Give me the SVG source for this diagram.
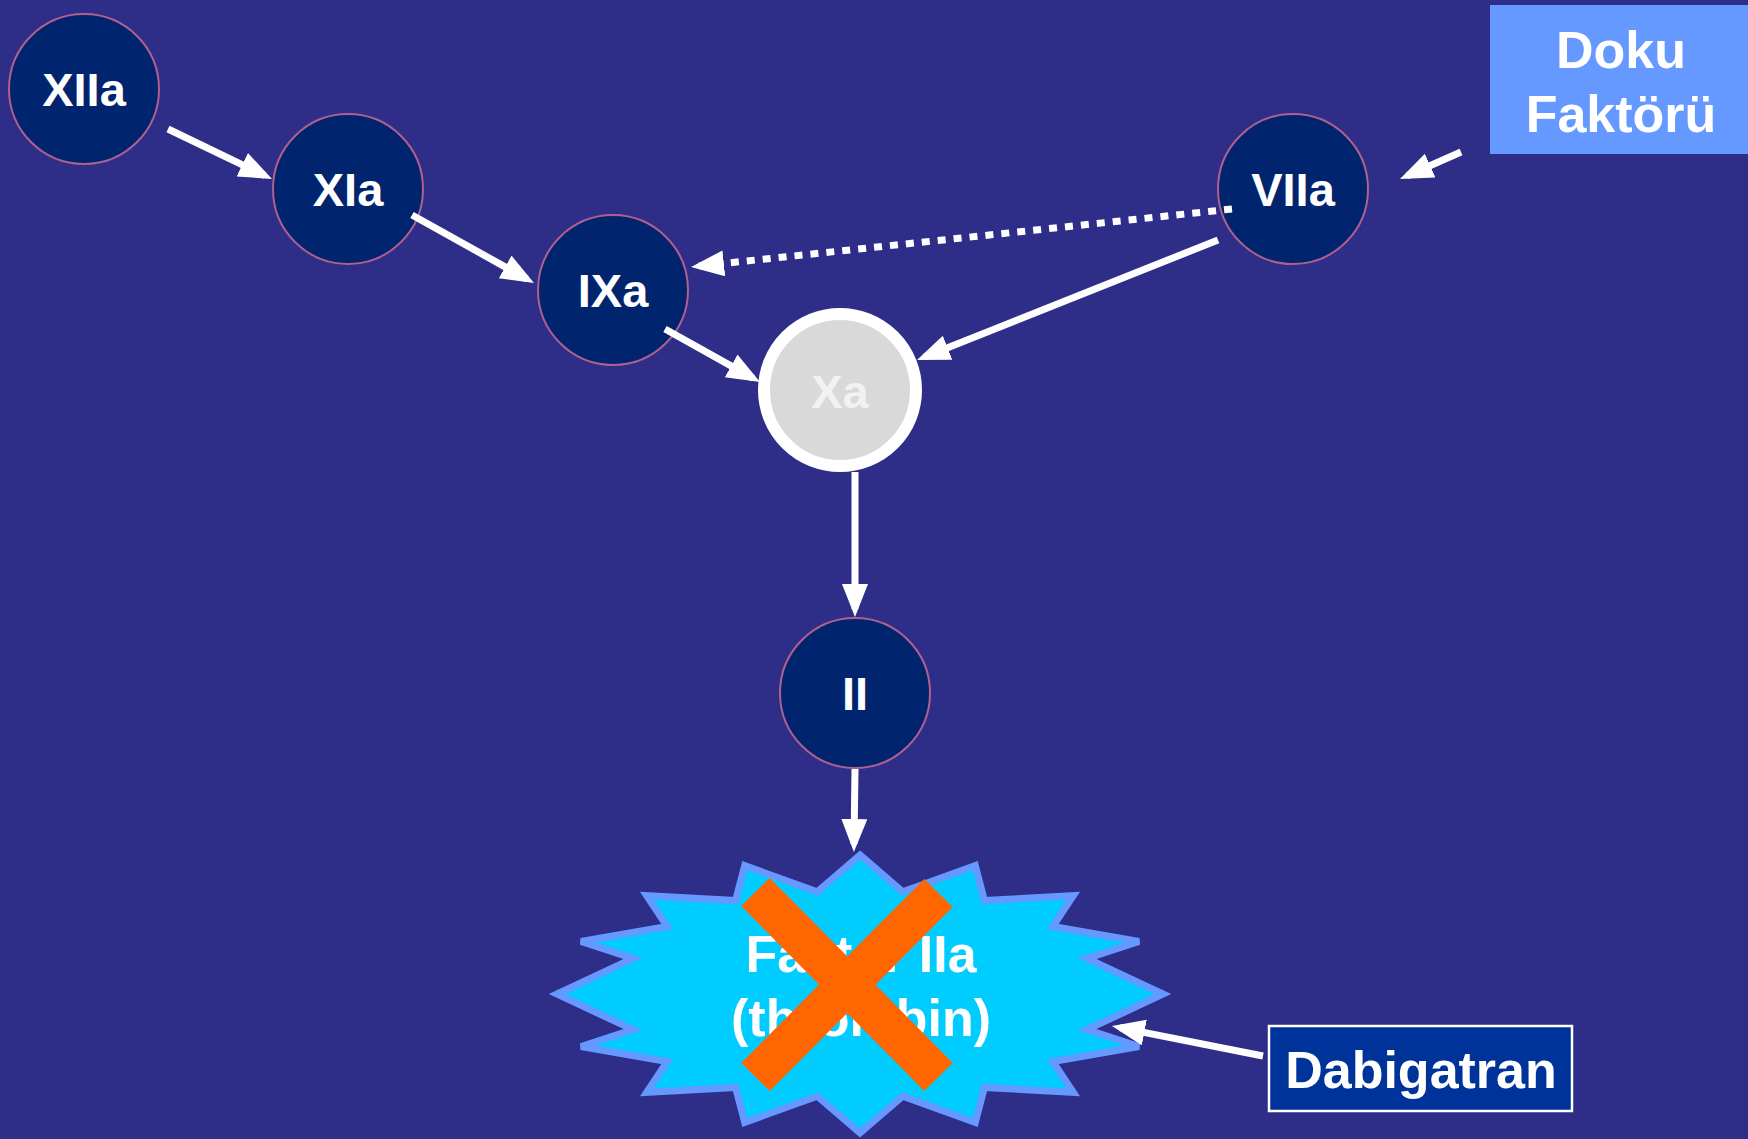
<svg xmlns="http://www.w3.org/2000/svg" width="1748" height="1139" viewBox="0 0 1748 1139">
  <style>
    .node circle { fill: #00246e; stroke: #b0608f; stroke-width: 2; }
    .lbl { font-family: "Liberation Sans", Arial, sans-serif; font-weight: bold; fill: #ffffff; text-anchor: middle; }
    .nl { font-size: 47px; }
    .big { font-size: 52px; }
    .conn { fill: none; stroke: #ffffff; stroke-width: 7; marker-end: url(#head); }
    .dotted { stroke-dasharray: 8 8; }
  </style>
  <defs>
    <marker id="head" markerUnits="userSpaceOnUse" markerWidth="36" markerHeight="28" refX="25" refY="13" orient="auto">
      <path d="M0,0 L33,13 L0,26 Z" fill="#ffffff"/>
    </marker>
  </defs>

  <rect width="1748" height="1139" fill="#2e2d88"/>

  <g id="node-XIIa" class="node">
    <circle cx="84" cy="89" r="75"/>
    <text class="lbl nl" x="84" y="106">XIIa</text>
  </g>
  <g id="node-XIa" class="node">
    <circle cx="348" cy="189" r="75"/>
    <text class="lbl nl" x="348" y="206">XIa</text>
  </g>
  <g id="node-IXa" class="node">
    <circle cx="613" cy="290" r="75"/>
    <text class="lbl nl" x="613" y="307">IXa</text>
  </g>
  <g id="node-VIIa" class="node">
    <circle cx="1293" cy="189" r="75"/>
    <text class="lbl nl" x="1293" y="206">VIIa</text>
  </g>
  <g id="node-Xa">
    <circle cx="840" cy="390" r="76" fill="#d9d9d9" stroke="#ffffff" stroke-width="12"/>
    <text class="lbl nl" x="840" y="408" style="fill:#f2f2f2">Xa</text>
  </g>
  <g id="node-II" class="node">
    <circle cx="855" cy="693" r="75"/>
    <text class="lbl nl" x="855" y="710">II</text>
  </g>

  <g id="node-doku">
    <rect x="1490" y="5" width="258" height="149" fill="#6699ff"/>
    <text class="lbl big" x="1621" y="68">Doku</text>
    <text class="lbl big" x="1621" y="132">Faktörü</text>
  </g>

  <g id="node-thrombin">
    <!-- 16-point star, centre (860,994) -->
    <polygon fill="#00ccff" stroke="#6699ff" stroke-width="7" stroke-linejoin="miter"
      points="860,855 902.8,891.8 975.3,865.6 984.4,900.5 1073.3,895.7 1052.8,926.5 1139,941.5 1087,958.3 1163,994 1087,1029.7 1139,1046.5 1052.8,1061.5 1073.3,1092.3 984.4,1087.5 975.3,1122.4 902.8,1096.2 860,1133 817.2,1096.2 744.7,1122.4 735.6,1087.5 646.7,1092.3 667.2,1061.5 581,1046.5 633,1029.7 557,994 633,958.3 581,941.5 667.2,926.5 646.7,895.7 735.6,900.5 744.7,865.6 817.2,891.8"/>
    <text class="lbl big" x="861" y="972">Factor IIa</text>
    <text class="lbl big" x="861" y="1036">(thrombin)</text>
    <g stroke="#ff6600" stroke-width="40" stroke-linecap="butt">
      <line x1="755.5" y1="892" x2="938.5" y2="1077"/>
      <line x1="938.5" y1="893" x2="755.5" y2="1077"/>
    </g>
  </g>

  <g id="node-dabigatran">
    <rect x="1269" y="1026" width="303" height="85" fill="#003399" stroke="#ffffff" stroke-width="2.5"/>
    <text class="lbl big" x="1421" y="1088">Dabigatran</text>
  </g>

  <!-- connectors, drawn over the nodes they start from -->
  <g id="connectors">
    <line class="conn" x1="168" y1="129" x2="264.8" y2="175.5"/>
    <line class="conn" x1="412" y1="215" x2="527" y2="279.1"/>
    <line class="conn" x1="665" y1="329" x2="753" y2="378.1"/>
    <line class="conn" x1="1218" y1="240" x2="924.4" y2="357"/>
    <line class="conn dotted" x1="1232" y1="209" x2="699" y2="266.1"/>
    <line class="conn" x1="1461" y1="152" x2="1407.3" y2="175.8"/>
    <line class="conn" x1="855" y1="472" x2="855" y2="609"/>
    <line class="conn" x1="855" y1="769" x2="854" y2="844"/>
    <line class="conn" x1="1263" y1="1056" x2="1119.8" y2="1027.6"/>
  </g>
</svg>
